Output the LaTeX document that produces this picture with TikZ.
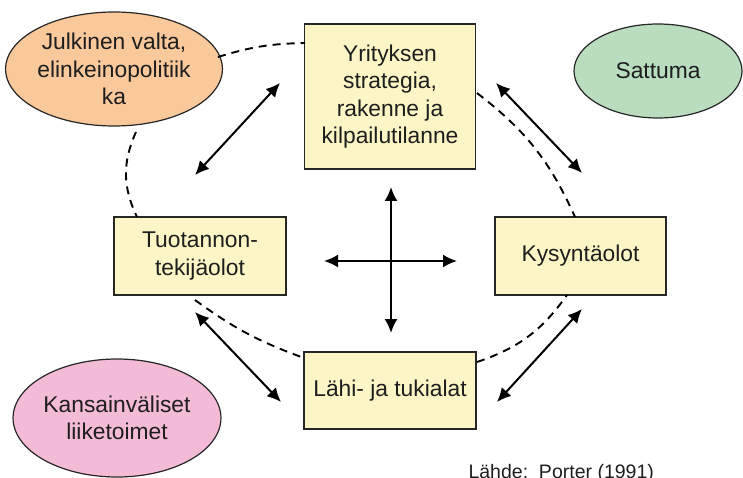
\documentclass[tikz,border=0pt]{standalone}
\usepackage{fontspec}
\setmainfont{Liberation Sans}
\usetikzlibrary{arrows.meta,shapes.geometric}
\definecolor{boxfill}{HTML}{FCF6C6}
\definecolor{orangefill}{HTML}{F9C99C}
\definecolor{greenfill}{HTML}{B9DDBE}
\definecolor{pinkfill}{HTML}{F3BBD6}
\definecolor{txt}{HTML}{1E1E1E}
\tikzset{
  factor/.style={draw=black!85, line width=1.3pt, fill=boxfill, align=center, inner sep=0pt, text=txt},
  outer/.style={ellipse, draw=black!85, line width=1.2pt, align=center, inner sep=0pt, text=txt},
  link/.style={line width=2pt, {Latex[length=14pt,width=13pt]}-{Latex[length=14pt,width=13pt]}},
  ring/.style={line width=1.9pt, dash pattern=on 8pt off 6pt},
}
\begin{document}
\begin{tikzpicture}[x=1pt,y=-1pt,font=\fontsize{22.8}{27.5}\selectfont]
\useasboundingbox (0,0) rectangle (743,478);
% factor boxes
\node[factor, minimum width=171pt, minimum height=145pt] (strat) at (390,96.5) {Yrityksen\\strategia,\\rakenne ja\\kilpailutilanne};
\node[factor, minimum width=172pt, minimum height=78pt] (tuot) at (200,256) {Tuotannon-\\tekijäolot};
\node[factor, minimum width=171pt, minimum height=78pt] (kys) at (580.5,256) {Kysyntäolot};
\node[factor, minimum width=172pt, minimum height=77pt] (lahi) at (390,390.5) {Lähi- ja tukialat};
% outer ellipses
\node[outer, fill=orangefill, minimum width=212pt, minimum height=114pt] (julk) at (114,69) {Julkinen valta,\\elinkeinopolitiik\\ka};
\node[outer, fill=greenfill, minimum width=168pt, minimum height=94pt] (satt) at (658,71) {Sattuma};
\node[outer, fill=pinkfill, minimum width=206pt, minimum height=118pt] (kans) at (117,418) {Kansainväliset\\liiketoimet};
% source
\node[anchor=base west, font=\fontsize{19.5}{22}\selectfont, text=txt] (src) at (465,478) {Lähde:\ \ Porter (1991)};
% dashed ring segments
\coordinate (r1a) at (218,57);  \coordinate (r1b) at (305,43);
\coordinate (r2a) at (136,132); \coordinate (r2b) at (137,217);
\coordinate (r3a) at (477,93);  \coordinate (r3b) at (575,217);
\coordinate (r4a) at (195,300); \coordinate (r4b) at (304,358);
\coordinate (r5a) at (477,362); \coordinate (r5b) at (567,295);
\draw[ring] (r1a) to[bend left=8] (r1b);
\draw[ring] (r2a) to[bend right=25] (r2b);
\draw[ring] (r3a) to[bend left=14] (r3b);
\draw[ring] (r4a) to[bend right=8] (r4b);
\draw[ring] (r5a) to[bend right=18] (r5b);
% double arrows
\coordinate (a1a) at (195,175); \coordinate (a1b) at (280,83);
\coordinate (a2a) at (496,83);  \coordinate (a2b) at (582,173);
\coordinate (a3a) at (195,312); \coordinate (a3b) at (281,402);
\coordinate (a4a) at (497,402); \coordinate (a4b) at (582,309);
\draw[link] (a1a) -- (a1b);
\draw[link] (a2a) -- (a2b);
\draw[link] (a3a) -- (a3b);
\draw[link] (a4a) -- (a4b);
% central cross
\coordinate (cu) at (391,187); \coordinate (cd) at (391,333);
\coordinate (cl) at (324,261); \coordinate (cr) at (457,261);
\draw[link] (cu) -- (cd);
\draw[link] (cl) -- (cr);
\end{tikzpicture}
\end{document}
